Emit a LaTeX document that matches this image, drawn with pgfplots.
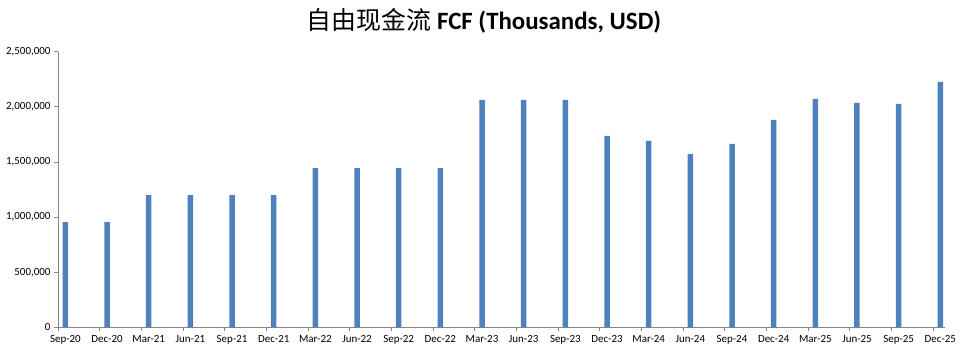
\documentclass[border=0pt]{standalone}
\usepackage{fontspec}
\setmainfont{Carlito}
\newfontfamily\cjk{Noto Sans CJK SC}
\usepackage{pgfplots}
\pgfplotsset{compat=1.18}
\definecolor{barblue}{HTML}{4F81BD}
\definecolor{axgray}{HTML}{868686}
\begin{document}
\begin{tikzpicture}
\begin{axis}[
  at={(0,0)}, anchor=south west,
  scale only axis, width=887bp, height=275.6bp,
  xmin=0, xmax=21.29, ymin=0, ymax=2500000,
  axis lines*=left,
  axis line style={axgray, line width=0.75bp},
  ybar, bar width=5.5bp, bar shift=7.4bp,
  xtick={0,...,21},
  xticklabels={Sep-20,Dec-20,Mar-21,Jun-21,Sep-21,Dec-21,Mar-22,Jun-22,Sep-22,Dec-22,Mar-23,Jun-23,Sep-23,Dec-23,Mar-24,Jun-24,Sep-24,Dec-24,Mar-25,Jun-25,Sep-25,Dec-25},
  xticklabel style={font=\fontsize{11}{12}\selectfont, xshift=7.4bp, yshift=-1bp},
  ytick={0,500000,1000000,1500000,2000000,2500000},
  yticklabel style={font=\fontsize{11}{12}\selectfont},
  scaled y ticks=false,
  /pgf/number format/.cd, fixed, 1000 sep={,}, assume math mode=true,
  /pgfplots/.cd,
  tick align=outside, major tick length=4bp,
  tick style={axgray, line width=0.75bp},
  clip=false,
]
\addplot[fill=barblue, draw=none] coordinates {
(0,955000) (1,955000) (2,1200000) (3,1200000) (4,1200000) (5,1200000)
(6,1445000) (7,1445000) (8,1445000) (9,1445000)
(10,2063000) (11,2063000) (12,2063000) (13,1736000) (14,1690000) (15,1573000)
(16,1663000) (17,1881000) (18,2072000) (19,2035000) (20,2026000) (21,2226000)
};
\end{axis}
\node[font=\fontsize{25}{30}\selectfont, inner sep=0pt] at (426bp,306.5bp) {{\cjk 自由现金流} \textbf{FCF (Thousands, USD)}};
\pgfresetboundingbox
\path (-58bp,-25.7bp) rectangle (909bp,327.3bp);
\end{tikzpicture}
\end{document}
